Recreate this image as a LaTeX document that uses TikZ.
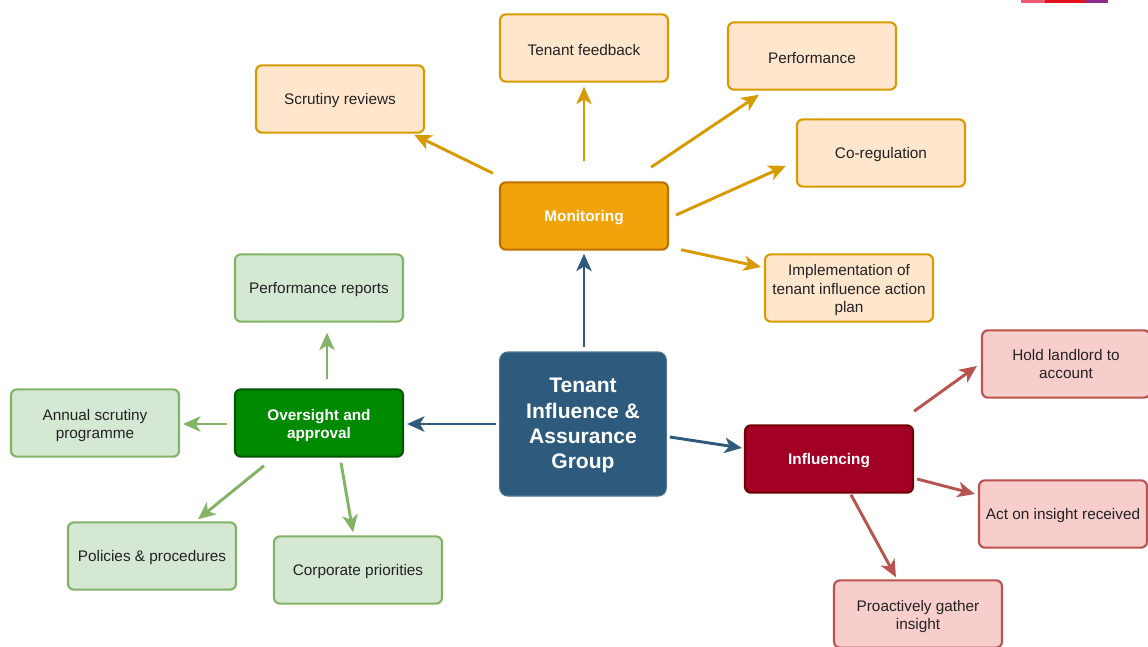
\documentclass[tikz,border=0pt]{standalone}
\usepackage{fontspec}
\setmainfont{Liberation Sans}
\usetikzlibrary{arrows.meta}
\definecolor{odark}{HTML}{F0A30A}
\definecolor{odarkst}{HTML}{BD7000}
\definecolor{olight}{HTML}{FFE6CC}
\definecolor{olightst}{HTML}{D79B00}
\definecolor{gdark}{HTML}{008A00}
\definecolor{gdarkst}{HTML}{005700}
\definecolor{glight}{HTML}{D5E8D4}
\definecolor{glightst}{HTML}{82B366}
\definecolor{rdark}{HTML}{A20025}
\definecolor{rdarkst}{HTML}{6F0000}
\definecolor{rlight}{HTML}{F8CECC}
\definecolor{rlightst}{HTML}{B85450}
\definecolor{bdark}{HTML}{2E5B7D}
\definecolor{bdarkst}{HTML}{4A7697}
\definecolor{txt}{HTML}{222222}
\definecolor{barpink}{HTML}{EB5A6E}
\definecolor{barred}{HTML}{E3101E}
\definecolor{barpurple}{HTML}{8E2A8C}
\newcommand\tstrut[1]{\rule{0pt}{#1}}
\tikzset{
  box/.style={rectangle, rounded corners=4.5pt, line width=1.6pt, minimum width=126pt, minimum height=50.5pt, align=center, inner sep=2pt, font=\fontsize{11.5}{13.9}\selectfont, execute at begin node={\rule{0pt}{11pt}}},
  lo/.style={box, draw=olightst, fill=olight, text=txt},
  lg/.style={box, draw=glightst, fill=glight, text=txt},
  lr/.style={box, draw=rlightst, fill=rlight, text=txt},
  dko/.style={box, draw=odarkst, fill=odark, text=white, font=\fontsize{11.5}{14}\selectfont\bfseries},
  dkg/.style={box, draw=gdarkst, fill=gdark, text=white, font=\fontsize{11.5}{14}\selectfont\bfseries},
  dkr/.style={box, draw=rdarkst, fill=rdark, text=white, font=\fontsize{11.5}{14}\selectfont\bfseries},
  hub/.style={rectangle, rounded corners=6pt, line width=0.8pt, draw=bdarkst, fill=bdark, text=white, minimum width=125pt, minimum height=108pt, align=center, font=\fontsize{15.8}{19}\selectfont\bfseries},
  arrbase/.style={line width=2.2pt, -{Stealth[length=13pt,width=11.5pt,inset=3.5pt]}},
  oarr/.style={arrbase, draw=olightst, fill=olightst},
  garr/.style={arrbase, draw=glightst, fill=glightst},
  rarr/.style={arrbase, draw=rlightst, fill=rlightst},
  barr/.style={arrbase, draw=bdark, fill=bdark},
}
\begin{document}
\begin{tikzpicture}[x=0.75pt,y=-0.75pt]
\useasboundingbox (0,0) rectangle (1148,646);
\clip (0,0) rectangle (1148,646);
% top-right bar
\fill[barpink] (1021,0) rectangle (1045,3);
\fill[barred] (1045,0) rectangle (1086,3);
\fill[barpurple] (1086,0) rectangle (1108,3);
% nodes
\node[lo] (fb) at (584,48) {Tenant feedback};
\node[lo] (perf) at (812,56) {Performance};
\node[lo] (scr) at (340,99) {Scrutiny reviews};
\node[lo] (coreg) at (881,153) {Co-regulation};
\node[dko] (mon) at (584,216) {Monitoring};
\node[lo] (impl) at (849,288) {\tstrut{11.8pt}Implementation of\\tenant influence action\\plan};
\node[lg] (pr) at (319,288) {Performance reports};
\node[hub] (ctr) at (583,424) {\tstrut{13.6pt}Tenant\\Influence \&\\Assurance\\Group};
\node[lr] (hold) at (1066,364) {Hold landlord to\\account};
\node[lg] (an) at (95,423) {\tstrut{12.4pt}Annual scrutiny\\programme};
\node[dkg] (ov) at (319,423) {\tstrut{12pt}Oversight and\\approval};
\node[dkr] (inf) at (829,459) {Influencing};
\node[lr] (act) at (1063,514) {Act on insight received};
\node[lg] (pol) at (152,556) {Policies \& procedures};
\node[lg] (cp) at (358,570) {Corporate priorities};
\node[lr] (pro) at (918,614) {\tstrut{12.4pt}Proactively gather\\insight};
% arrows from monitoring
\draw[oarr] ([shift={(0,-20)}]mon.north) -- ([shift={(0,4)}]fb.south);
\draw[oarr] ([shift={(-6,-8)}]mon.north west) -- ([shift={(-11,1)}]scr.south east);
\draw[oarr] ([shift={(-18,-14)}]mon.north east) -- ([shift={(32,4)}]perf.south west);
\draw[oarr] ([shift={(7,-1)}]mon.east) -- ([shift={(-10,-22)}]coreg.south west);
\draw[oarr] ([shift={(12,-1)}]mon.south east) -- ([shift={(-3,-21)}]impl.west);
% arrows from hub
\draw[barr] ([shift={(1,-4)}]ctr.north) -- ([shift={(0,3)}]mon.south);
\draw[barr] ([shift={(-3,0)}]ctr.west) -- ([shift={(3,1)}]ov.east);
\draw[barr] ([shift={(3,13)}]ctr.east) -- ([shift={(-2,-11)}]inf.west);
% arrows from oversight
\draw[garr] ([shift={(8,-9)}]ov.north) -- ([shift={(8,10)}]pr.south);
\draw[garr] ([shift={(-7,1)}]ov.west) -- ([shift={(3,1)}]an.east);
\draw[garr] ([shift={(30,8)}]ov.south west) -- ([shift={(46,-2)}]pol.north);
\draw[garr] ([shift={(22,5)}]ov.south) -- ([shift={(-5,-3)}]cp.north);
% arrows from influencing
\draw[rarr] ([shift={(0,-13)}]inf.north east) -- ([shift={(-4,2)}]hold.west);
\draw[rarr] ([shift={(3,20)}]inf.east) -- ([shift={(-3,-20)}]act.west);
\draw[rarr] ([shift={(22,1)}]inf.south) -- ([shift={(-22,-2)}]pro.north);
\end{tikzpicture}
\end{document}
